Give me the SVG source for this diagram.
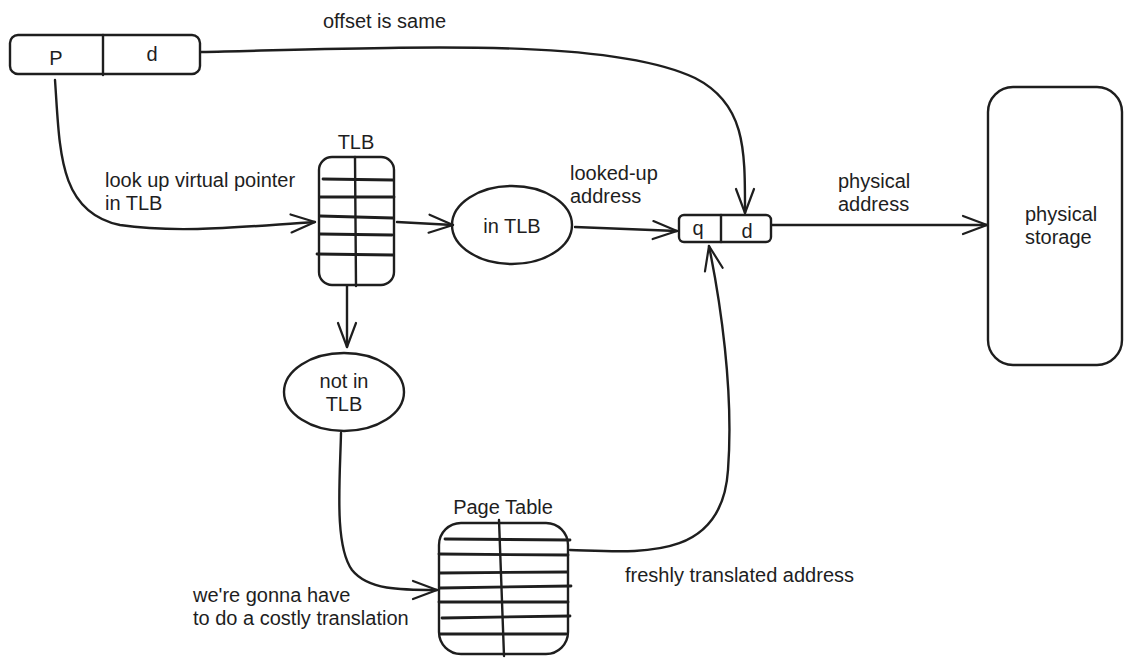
<svg xmlns="http://www.w3.org/2000/svg" width="1132" height="666" viewBox="0 0 1132 666">
<style>
.s{fill:none;stroke:#1e1e1e;stroke-width:2.4;stroke-linecap:round;stroke-linejoin:round}
.t{font-family:"Liberation Sans",Arial,sans-serif;font-size:20px;fill:#1e1e1e}
.m{text-anchor:middle}
</style>
<defs>
<marker id="a" markerUnits="userSpaceOnUse" markerWidth="40" markerHeight="40" viewBox="-30 -15 40 30" refX="0" refY="0" orient="auto">
<path d="M-24,-9 L0,0 L-24,9" fill="none" stroke="#1e1e1e" stroke-width="2.2" stroke-linecap="round" stroke-linejoin="round"/>
</marker>
</defs>
<rect width="1132" height="666" fill="#fff"/>
<g id="connectors">
<path class="s" marker-end="url(#a)" d="M201,52 C 420,47 610,38 695,78 C 746,104 745,150 745,213"/>
<path class="s" marker-end="url(#a)" d="M55,80 C 60,150 58,212 120,225 C 180,234 250,226 315,222"/>
<path class="s" marker-end="url(#a)" d="M397,222 L453,225"/>
<path class="s" marker-end="url(#a)" d="M575,227 L677,231"/>
<path class="s" marker-end="url(#a)" d="M772,225 L987,225"/>
<path class="s" marker-end="url(#a)" d="M347,286 L347,347"/>
<path class="s" marker-end="url(#a)" d="M341,433 C 340,480 334,545 352,570 C 368,590 400,590 437,590"/>
<path class="s" marker-end="url(#a)" d="M570,550 C 640,552 722,562 728,470 C 734,390 720,300 709,246"/>
</g>
<g id="labels">
<text class="t" x="323" y="28">offset is same</text>
<text class="t" x="105" y="187">look up virtual pointer</text>
<text class="t" x="105" y="210">in TLB</text>
<text class="t" x="570" y="180">looked-up</text>
<text class="t" x="570" y="203">address</text>
<text class="t" x="838" y="188">physical</text>
<text class="t" x="838" y="211">address</text>
<text class="t" x="193" y="602">we're gonna have</text>
<text class="t" x="193" y="625">to do a costly translation</text>
<text class="t" x="625" y="582">freshly translated address</text>
</g>
<g id="virtual-address">
<rect class="s" x="10" y="35" width="190" height="39" rx="8"/>
<path class="s" d="M103,35 L103,75"/>
<text class="t m" x="56" y="65">P</text>
<text class="t m" x="152" y="61">d</text>
</g>
<g id="tlb">
<text class="t m" x="356" y="149">TLB</text>
<rect class="s" x="319" y="157" width="75" height="128" rx="13"/>
<path class="s" d="M355,157 L356,286"/>
<path class="s" d="M323,179 L393,180 M320,197 L394,197 M320,216 L393,218 M320,234 L392,235 M317,254 L393,255" style="stroke-width:2.8"/>
</g>
<g id="in-tlb">
<ellipse class="s" cx="512" cy="225" rx="60" ry="39"/>
<text class="t m" x="512" y="233">in TLB</text>
</g>
<g id="physical-address">
<rect class="s" x="679" y="215" width="92" height="27" rx="5"/>
<path class="s" d="M721,215 L721,242"/>
<text class="t m" x="698" y="235">q</text>
<text class="t m" x="747" y="238">d</text>
</g>
<g id="physical-storage">
<rect class="s" x="988" y="87" width="134" height="278" rx="25"/>
<text class="t" x="1025" y="221">physical</text>
<text class="t" x="1025" y="244">storage</text>
</g>
<g id="not-in-tlb">
<ellipse class="s" cx="344" cy="392" rx="60" ry="39"/>
<text class="t m" x="344" y="388">not in</text>
<text class="t m" x="344" y="411">TLB</text>
</g>
<g id="page-table">
<text class="t m" x="503" y="514">Page Table</text>
<rect class="s" x="439" y="523" width="129" height="131" rx="22"/>
<path class="s" d="M499,520 L504,656"/>
<path class="s" d="M445,539 L570,540 M439,554 L568,555 M440,573 L567,572 M440,588 L571,586 M439,602 L568,602 M442,618 L570,616 M440,634 L566,634" style="stroke-width:2.8"/>
</g>
</svg>
